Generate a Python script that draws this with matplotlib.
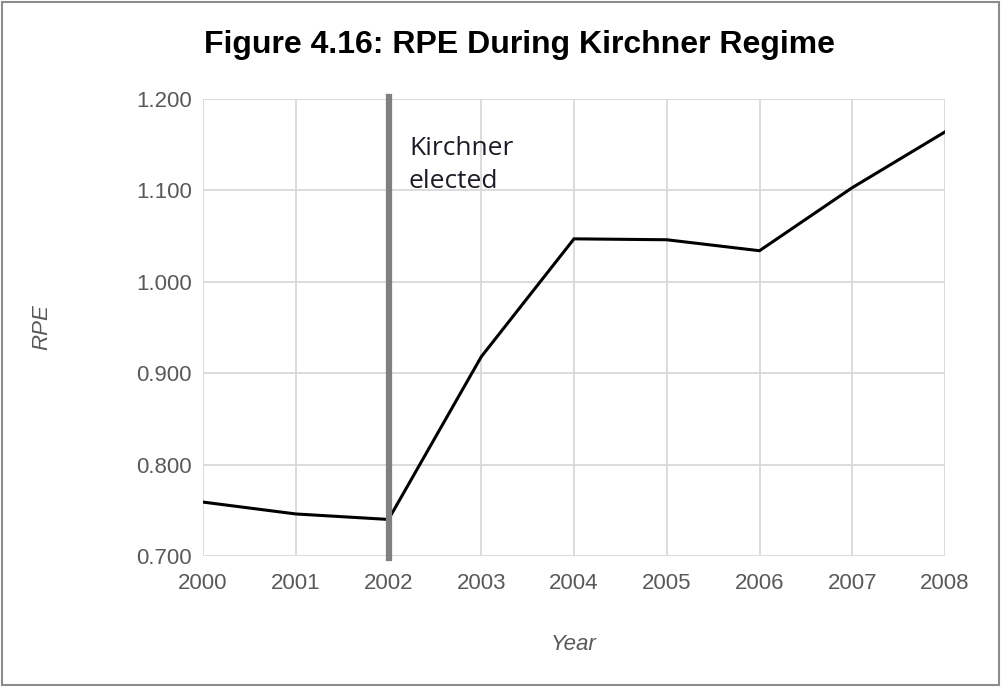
import matplotlib
matplotlib.use("Agg")
import matplotlib.pyplot as plt
from matplotlib.patches import Rectangle

# data
years = [2000, 2001, 2002, 2003, 2004, 2005, 2006, 2007, 2008]
rpe = [0.759, 0.746, 0.740, 0.918, 1.047, 1.046, 1.034, 1.103, 1.164]
event_year = 2002
event_label = "Kirchner\nelected"
y_ticks = [0.7, 0.8, 0.9, 1.0, 1.1, 1.2]

plt.rcParams["font.family"] = ["Liberation Sans", "DejaVu Sans"]

fig = plt.figure(figsize=(10.03, 6.87), dpi=100)
ax = fig.add_axes([203 / 1003, 1 - 556 / 687, (945 - 203) / 1003, (556 - 99) / 687])

ax.plot(years, rpe, color="black", lw=2.2, solid_joinstyle="miter", zorder=3)
ax.axvline(event_year, ymin=-0.005, ymax=1.005, color="#808080", lw=4.5,
           clip_on=False, zorder=4)
ax.text(2002.22, 1.159, event_label, family=["Open Sans", "DejaVu Sans"],
        fontsize=19, color="#1c1c24", va="top", ha="left", linespacing=1.4)

ax.set_xlim(years[0], years[-1])
ax.set_ylim(y_ticks[0], y_ticks[-1])
ax.set_xticks(years)
ax.set_yticks(y_ticks)
ax.set_yticklabels([f"{v:.3f}" for v in y_ticks])
ax.grid(True, color="#d9d9d9", lw=1.3)
ax.set_axisbelow(True)
for s in ax.spines.values():
    s.set_visible(False)
ax.tick_params(length=0, labelsize=16, labelcolor="#595959")
ax.tick_params(axis="x", pad=12)
ax.tick_params(axis="y", pad=8)

ax.set_xlabel("Year", fontsize=16, style="italic", color="#595959")
ax.set_ylabel("RPE", fontsize=16, style="italic", color="#595959")
ax.xaxis.set_label_coords(0.5, -(645 - 556) / 457, transform=ax.transAxes)
ax.yaxis.set_label_coords(-(203 - 42) / 742, 0.5)
ax.xaxis.label.set_va("center")
ax.yaxis.label.set_va("center")

fig.text(519 / 1003, 1 - 45 / 687, "Figure 4.16: RPE During Kirchner Regime",
         ha="center", va="center", fontsize=23, fontweight="bold", color="black")

fig.patches.append(Rectangle((0.002, 0.003), 0.994, 0.994, transform=fig.transFigure,
                             fill=False, edgecolor="#8c8c8c", lw=1.5))

fig.savefig("out.png", dpi=100, facecolor="white")
